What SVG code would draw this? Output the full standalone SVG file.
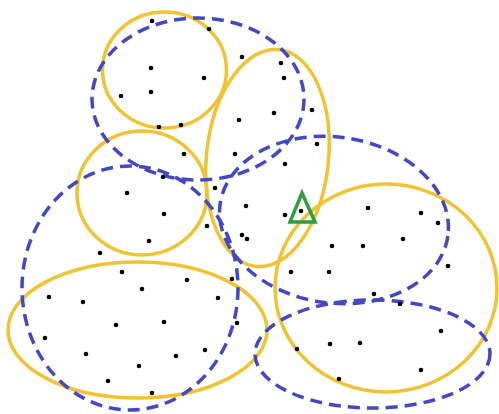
<svg xmlns="http://www.w3.org/2000/svg" width="499" height="414" viewBox="0 0 499 414">
<style>
.y{fill:none;stroke:#F1C232;stroke-width:3.5}
.b{fill:none;stroke:#4348C4;stroke-width:3.5;stroke-dasharray:12 7}
.d{fill:#000}
.t{fill:none;stroke:#2E9E3E;stroke-width:3.5;stroke-linejoin:miter}
</style>
<rect width="499" height="414" fill="#fff"/>
<g id="yellow-sets">
<g id="y-top"><ellipse class="y" cx="164.5" cy="70" rx="62" ry="58"/></g>
<g id="y-tall"><ellipse class="y" cx="267.5" cy="158" rx="61" ry="109" transform="rotate(6 267.5 158)"/></g>
<g id="y-mid"><ellipse class="y" cx="142" cy="193" rx="65" ry="62"/></g>
<g id="y-bottom-left"><ellipse class="y" cx="137.5" cy="330" rx="129.5" ry="68"/></g>
<g id="y-right"><ellipse class="y" cx="386" cy="288" rx="111" ry="104"/></g>
</g>
<g id="blue-sets">
<g id="b-top"><ellipse class="b" cx="198" cy="99" rx="106" ry="81"/></g>
<g id="b-left"><ellipse class="b" cx="130" cy="288" rx="108" ry="122"/></g>
<g id="b-mid"><ellipse class="b" cx="334" cy="220" rx="115" ry="83" transform="rotate(8 334 220)"/></g>
<g id="b-bottom-right"><ellipse class="b" cx="372.5" cy="354" rx="117.5" ry="54"/></g>
</g>
<g id="points">
<circle class="d" cx="152" cy="21" r="2.3"/>
<circle class="d" cx="209" cy="29" r="2.3"/>
<circle class="d" cx="151" cy="68" r="2.3"/>
<circle class="d" cx="242" cy="57" r="2.3"/>
<circle class="d" cx="204" cy="78" r="2.3"/>
<circle class="d" cx="121" cy="96" r="2.3"/>
<circle class="d" cx="151" cy="92" r="2.3"/>
<circle class="d" cx="281" cy="63" r="2.3"/>
<circle class="d" cx="284" cy="78" r="2.3"/>
<circle class="d" cx="159" cy="127" r="2.3"/>
<circle class="d" cx="181" cy="125" r="2.3"/>
<circle class="d" cx="239" cy="120" r="2.3"/>
<circle class="d" cx="274" cy="113" r="2.3"/>
<circle class="d" cx="312" cy="110" r="2.3"/>
<circle class="d" cx="127" cy="193" r="2.3"/>
<circle class="d" cx="164" cy="214" r="2.3"/>
<circle class="d" cx="149" cy="241" r="2.3"/>
<circle class="d" cx="100" cy="253" r="2.3"/>
<circle class="d" cx="122" cy="272" r="2.3"/>
<circle class="d" cx="163" cy="177" r="2.3"/>
<circle class="d" cx="184" cy="154" r="2.3"/>
<circle class="d" cx="235" cy="154" r="2.3"/>
<circle class="d" cx="317" cy="144" r="2.3"/>
<circle class="d" cx="285" cy="164" r="2.3"/>
<circle class="d" cx="215" cy="188" r="2.3"/>
<circle class="d" cx="246" cy="206" r="2.3"/>
<circle class="d" cx="207" cy="226" r="2.3"/>
<circle class="d" cx="285" cy="215" r="2.3"/>
<circle class="d" cx="301" cy="211" r="2.3"/>
<circle class="d" cx="242" cy="235" r="2.3"/>
<circle class="d" cx="247" cy="239" r="2.3"/>
<circle class="d" cx="332" cy="246" r="2.3"/>
<circle class="d" cx="291" cy="272" r="2.3"/>
<circle class="d" cx="329" cy="272" r="2.3"/>
<circle class="d" cx="368" cy="208" r="2.3"/>
<circle class="d" cx="421" cy="213" r="2.3"/>
<circle class="d" cx="438" cy="223" r="2.3"/>
<circle class="d" cx="363" cy="246" r="2.3"/>
<circle class="d" cx="403" cy="239" r="2.3"/>
<circle class="d" cx="448" cy="266" r="2.3"/>
<circle class="d" cx="142" cy="289" r="2.3"/>
<circle class="d" cx="49" cy="297" r="2.3"/>
<circle class="d" cx="83" cy="302" r="2.3"/>
<circle class="d" cx="116" cy="325" r="2.3"/>
<circle class="d" cx="164" cy="322" r="2.3"/>
<circle class="d" cx="45" cy="338" r="2.3"/>
<circle class="d" cx="86" cy="354" r="2.3"/>
<circle class="d" cx="139" cy="366" r="2.3"/>
<circle class="d" cx="108" cy="381" r="2.3"/>
<circle class="d" cx="152" cy="393" r="2.3"/>
<circle class="d" cx="187" cy="280" r="2.3"/>
<circle class="d" cx="232" cy="279" r="2.3"/>
<circle class="d" cx="218" cy="298" r="2.3"/>
<circle class="d" cx="237" cy="323" r="2.3"/>
<circle class="d" cx="176" cy="356" r="2.3"/>
<circle class="d" cx="205" cy="350" r="2.3"/>
<circle class="d" cx="297" cy="349" r="2.3"/>
<circle class="d" cx="330" cy="344" r="2.3"/>
<circle class="d" cx="374" cy="294" r="2.3"/>
<circle class="d" cx="400" cy="304" r="2.3"/>
<circle class="d" cx="441" cy="331" r="2.3"/>
<circle class="d" cx="360" cy="343" r="2.3"/>
<circle class="d" cx="421" cy="370" r="2.3"/>
<circle class="d" cx="339" cy="379" r="2.3"/>
</g>
<g id="triangle"><polygon class="t" points="302,193 290,222 315,222"/></g>
</svg>
